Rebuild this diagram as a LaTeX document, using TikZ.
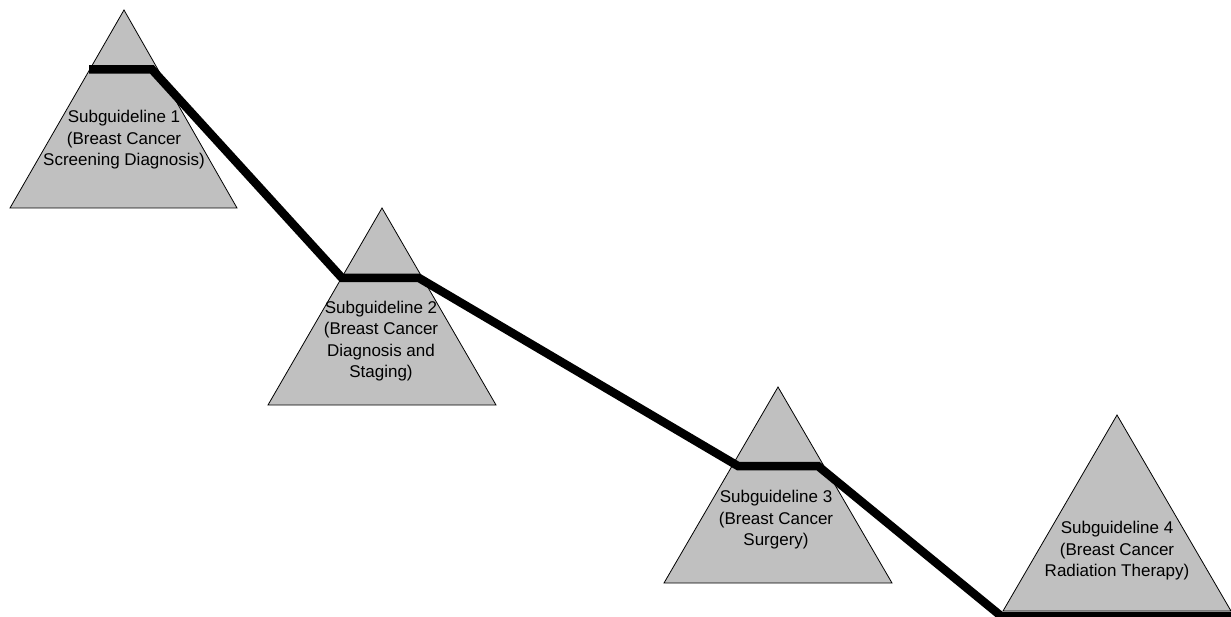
\documentclass[tikz,border=0pt]{standalone}
\usepackage{fontspec}
\setmainfont{Liberation Sans}
\definecolor{pyramidgray}{RGB}{192,192,192}
\begin{document}
\begin{tikzpicture}[x=1pt,y=-1pt,
	pyramid/.style={draw=black, line width=0.8pt, fill=pyramidgray},
	label/.style={align=center, inner sep=0pt, font=\fontsize{17}{21.5}\selectfont},
	path/.style={line width=8.5pt, draw=black}]
	\useasboundingbox (0,0) rectangle (1231,617);
	% the four subguidelines
	\draw[pyramid] (124, 10) -- (237,208) -- (10,208) -- cycle;
	\draw[pyramid] (382,208) -- (496,405) -- (268,405) -- cycle;
	\draw[pyramid] (778,387) -- (892,583) -- (664,583) -- cycle;
	\draw[pyramid] (1117,415) -- (1231,611) -- (1003,611) -- cycle;
	\node (S1) at (124,140)	[label]	{Subguideline 1\\(Breast Cancer\\Screening Diagnosis)};
	\node (S2) at (381,341)	[label]	{Subguideline 2\\(Breast Cancer\\Diagnosis and\\Staging)};
	\node (S3) at (776,520)	[label]	{Subguideline 3\\(Breast Cancer\\Surgery)};
	\node (S4) at (1117,551)	[label]	{Subguideline 4\\(Breast Cancer\\Radiation Therapy)};
	% bend points of the path
	\coordinate (A1) at (89,69.5);
	\coordinate (B1) at (152,69.5);
	\coordinate (A2) at (342,278);
	\coordinate (B2) at (419,278);
	\coordinate (A3) at (738,466);
	\coordinate (B3) at (818,466);
	\coordinate (A4) at (1001,616);
	\coordinate (B4) at (1235,616);
	\draw[path] (A1) -- (B1) -- (A2) -- (B2) -- (A3) -- (B3) -- (A4) -- (B4);
\end{tikzpicture}
\end{document}
